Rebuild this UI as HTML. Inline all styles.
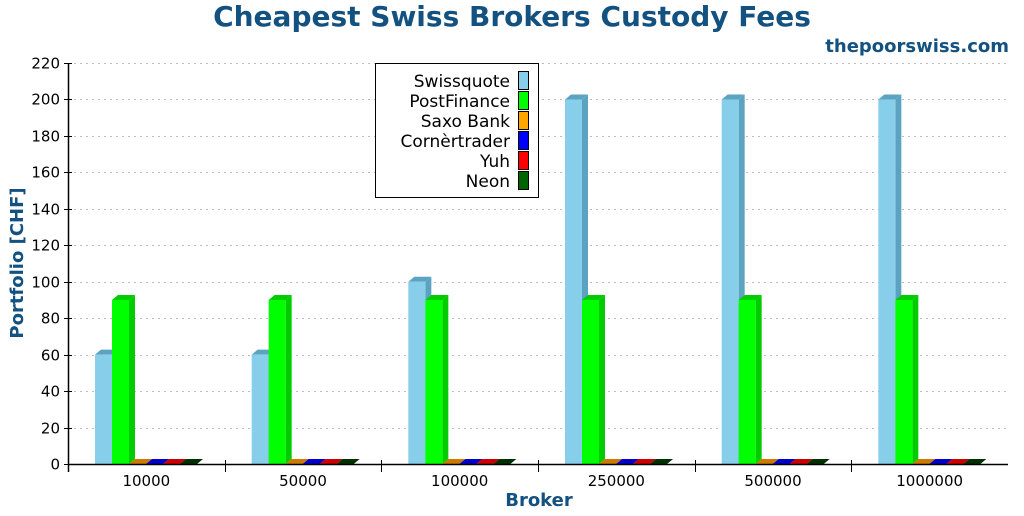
<!DOCTYPE html>
<html><head><meta charset="utf-8"><style>
body{margin:0;background:#fff;font-family:"DejaVu Sans","Liberation Sans",sans-serif}
</style></head><body>
<svg width="1024" height="512" xmlns="http://www.w3.org/2000/svg" font-family="DejaVu Sans, Liberation Sans, sans-serif">
<text x="512" y="26" text-anchor="middle" font-size="28" font-weight="bold" fill="#135181">Cheapest Swiss Brokers Custody Fees</text>
<text x="1009" y="52" text-anchor="end" font-size="18" font-weight="bold" fill="#135181">thepoorswiss.com</text>
<text x="539" y="506" text-anchor="middle" font-size="18" font-weight="bold" fill="#135181">Broker</text>
<text transform="translate(23,263) rotate(-90)" text-anchor="middle" font-size="18" font-weight="bold" fill="#135181">Portfolio  [CHF]</text>
<g id="grid"></g><g id="bars"></g><g id="axes"></g>
<g id="legend">
<rect x="375.5" y="63.5" width="163" height="134" fill="#fff" stroke="#000"/>
</g>
</svg>
<script>
const categories=["10000","50000","100000","250000","500000","1000000"];
const seriesNames=["Swissquote","PostFinance","Saxo Bank","Cornèrtrader","Yuh","Neon"];
const swissquote=[60,60,100,200,200,200];
const postfinance=[90,90,90,90,90,90];
const saxo=[0,0,0,0,0,0];
const corner=[0,0,0,0,0,0];
const yuh=[0,0,0,0,0,0];
const neon=[0,0,0,0,0,0];
const yTicks=[0,20,40,60,80,100,120,140,160,180,200,220];
const series=[swissquote,postfinance,saxo,corner,yuh,neon];
const colors=[["#87ceeb","#5ba3c0","#5ba3c0"],["#00ff00","#00cc00","#00cc00"],["#ffa500","#cc7a00","#cc7a00"],["#0000ff","#0000cc","#0000cc"],["#ff0000","#cc0000","#cc0000"],["#006400","#003000","#003000"]];
const NS="http://www.w3.org/2000/svg";
const X0=68,X1=1008,Y0=464,Y1=63,YMAX=220;
const gw=(X1-X0)/categories.length, bw=17, dx=6, dy=5;
const y=v=>Y0-(v/YMAX)*(Y0-Y1);
function mk(tag,attrs,parent){const e=document.createElementNS(NS,tag);for(const k in attrs)e.setAttribute(k,attrs[k]);parent.appendChild(e);return e;}
const grid=document.getElementById('grid'),bars=document.getElementById('bars'),axes=document.getElementById('axes'),legend=document.getElementById('legend');
yTicks.forEach(t=>{
  const yy=Math.round(y(t))+0.5;
  if(t>0){const g=mk('line',{x1:X0,x2:X1,y1:yy,y2:yy,stroke:'#bbb','stroke-dasharray':'2,4'},grid);
  
  }
  const tk=mk('line',{x1:X0-4,x2:X0+4,y1:yy,y2:yy,stroke:'#000'},axes);
  
  
  const lb=mk('text',{x:X0-8,y:yy+5,'text-anchor':'end','font-size':'15'},axes);lb.textContent=t;
  
  
});
categories.forEach((c,i)=>{
  const gx=X0+i*gw;
  series.forEach((s,j)=>{
    const x=gx+27+j*bw, top=y(s[i]), col=colors[j];
    const g=mk('g',{},bars);
    
    
    mk('polygon',{points:`${x+bw},${top} ${x+bw+dx},${top-dy} ${x+bw+dx},${Y0-dy} ${x+bw},${Y0}`,fill:col[2]},g);
    mk('polygon',{points:`${x},${top} ${x+dx},${top-dy} ${x+bw+dx},${top-dy} ${x+bw},${top}`,fill:col[1]},g);
    if(Y0-top>0)mk('rect',{x:x,y:top,width:bw,height:Y0-top,fill:col[0]},g);
  });
  const lb=mk('text',{x:gx+gw/2,y:486,'text-anchor':'middle','font-size':'15'},axes);lb.textContent=c;
  
  
  if(i>0){const tk=mk('line',{x1:Math.round(gx)+0.5,x2:Math.round(gx)+0.5,y1:Y0-4,y2:Y0+8,stroke:'#000'},axes);
  
  }
});
const xa=mk('line',{x1:X0,x2:X1,y1:Y0+0.5,y2:Y0+0.5,stroke:'#000','stroke-width':1.5},axes);


const ya=mk('line',{x1:X0+0.5,x2:X0+0.5,y1:Y1,y2:Y0+8,stroke:'#000','stroke-width':1.5},axes);


seriesNames.forEach((n,j)=>{
  const yy=71+j*20;
  const g=mk('g',{},legend);
  
  
  const t=mk('text',{x:510,y:yy+16,'text-anchor':'end','font-size':'17'},g);t.textContent=n;
  mk('rect',{x:518.5,y:yy+0.5,width:10,height:18,fill:colors[j][0],stroke:'#000'},g);
});
</script>
</body></html>
